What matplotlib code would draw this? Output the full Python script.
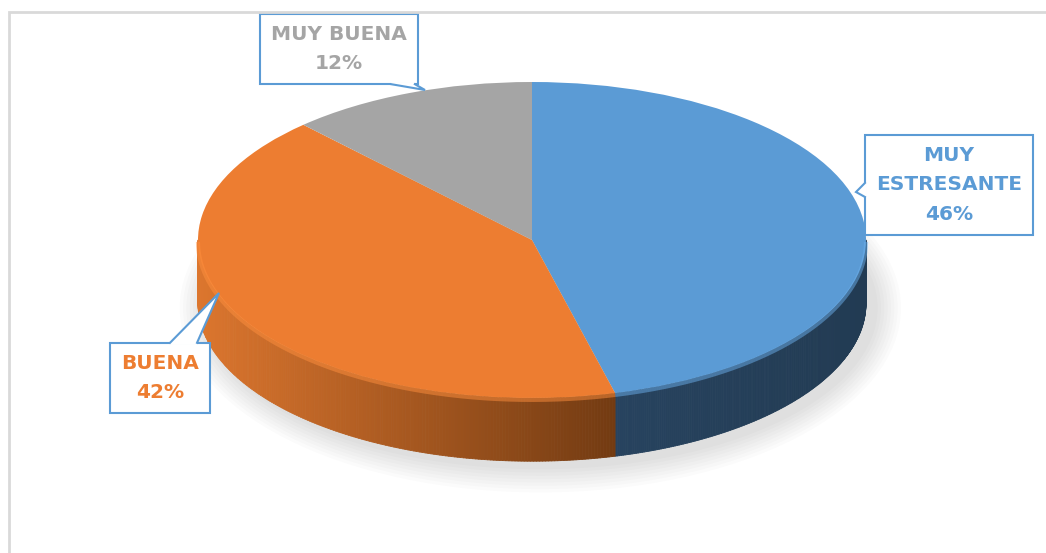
import numpy as np
import matplotlib.pyplot as plt
from matplotlib.collections import PolyCollection
from matplotlib.patches import Ellipse, Rectangle, Polygon
from matplotlib.colors import to_rgb

# slice data (clockwise from 12 o'clock)
categories = ['MUY\nESTRESANTE', 'BUENA', 'MUY BUENA']
shares = [46, 42, 12]
top_colors = ['#5B9BD5', '#ED7D31', '#A5A5A5']
side_light = ['#27435F', '#DC762E', '#8A8A8A']
side_dark = ['#223B53', '#733B12', '#5E5E5E']
label_colors = ['#5B9BD5', '#ED7D31', '#A5A5A5']

W, H = 1046, 553
CX, CY = 532, 240      # pie centre (pixels from top-left)
RX, RY = 334, 158      # ellipse radii in pixels
DEPTH = 0.40           # side thickness, in units of RY
BOX_EDGE = '#5B9BD5'


def px(x, y):
    # pixel position -> data coords
    return (x - CX) / RX, (CY - y) / RY


fig = plt.figure(figsize=(W / 100, H / 100), dpi=100)
ax = fig.add_axes([0, 0, 1, 1])

# soft shadow under the pie
for k in range(8):
    e = 0.01 * (8 - k)
    ax.add_patch(Ellipse((0.025, -DEPTH - 0.03), 2 * (1 + e), 2 * (1 + 2.1 * e),
                         fc='#000000', alpha=0.014, lw=0, zorder=0))

# side of the 3D pie, built from the slice angles
cum = np.concatenate([[0], np.cumsum(shares)]) / np.sum(shares)
polys, cols = [], []
for i in range(len(shares)):
    a_lo = 90 - cum[i + 1] * 360
    a_hi = 90 - cum[i] * 360
    lo, hi = max(a_lo, -180), min(a_hi, 0)
    if lo >= hi:
        continue
    t = np.radians(np.linspace(lo, hi, 200))
    xs = np.cos(t)
    x_min, x_max = xs.min(), xs.max()
    c0, c1 = np.array(to_rgb(side_light[i])), np.array(to_rgb(side_dark[i]))
    for j in range(len(t) - 1):
        t1, t2 = t[j], t[j + 1]
        polys.append([(np.cos(t1), np.sin(t1)), (np.cos(t2), np.sin(t2)),
                      (np.cos(t2), np.sin(t2) - DEPTH), (np.cos(t1), np.sin(t1) - DEPTH)])
        f = ((np.cos(t1) + np.cos(t2)) / 2 - x_min) / max(x_max - x_min, 1e-6)
        cols.append(c0 * (1 - f) + c1 * f)
ax.add_collection(PolyCollection(polys, facecolors=cols, edgecolors=cols, lw=0.6, zorder=1))

# top face
wedges, _ = ax.pie(shares, colors=top_colors, startangle=90, counterclock=False,
                   radius=1, center=(0, 0), wedgeprops=dict(lw=0))
for w in wedges:
    w.set_zorder(2)

# light bevel along the front rim
for i in range(len(shares)):
    a_lo = 90 - cum[i + 1] * 360
    a_hi = 90 - cum[i] * 360
    lo, hi = max(a_lo, -180), min(a_hi, 0)
    if lo >= hi:
        continue
    t = np.radians(np.linspace(lo, hi, 200))
    c = np.array(to_rgb(top_colors[i]))
    ax.plot(np.cos(t), np.sin(t) - 0.012, color=np.minimum(c * 1.06 + 0.04, 1),
            lw=3, alpha=0.5, zorder=3, solid_capstyle='butt')

ax.set_aspect('auto')
ax.set_xlim(px(0, 0)[0], px(W, 0)[0])
ax.set_ylim(px(0, H)[1], px(0, 0)[1])
ax.axis('off')

# data labels (callout boxes)
label_pos = [(949, 185), (160, 378), (339, 49)]
label_tip = [(856, 192), (219, 293), (425, 90)]
# which box edge the tail leaves from, and where along it (fractions)
tail_edge = ['left', 'top', 'bottom']
tail_span = [(0.48, 0.62), (0.60, 0.87), (0.83, 0.98)]

texts = []
for i in range(len(shares)):
    texts.append(ax.text(*px(*label_pos[i]), f'{categories[i]}\n{shares[i]}%',
                         ha='center', va='center', fontsize=14.5, fontweight='bold',
                         family='DejaVu Sans', color=label_colors[i], linespacing=1.68,
                         bbox=dict(boxstyle='square,pad=0.55', fc='white', ec=BOX_EDGE, lw=1.5),
                         zorder=10))

fig.canvas.draw()
to_data = ax.transData.inverted()
for i, txt in enumerate(texts):
    bb = txt.get_bbox_patch().get_window_extent()
    f0, f1 = tail_span[i]
    if tail_edge[i] == 'left':
        a = (bb.x0, bb.y1 - f0 * bb.height)
        b = (bb.x0, bb.y1 - f1 * bb.height)
        inner = (2, 0)
    elif tail_edge[i] == 'top':
        a = (bb.x0 + f0 * bb.width, bb.y1)
        b = (bb.x0 + f1 * bb.width, bb.y1)
        inner = (0, -2)
    else:
        a = (bb.x0 + f0 * bb.width, bb.y0)
        b = (bb.x0 + f1 * bb.width, bb.y0)
        inner = (0, 2)
    tip = ax.transData.transform(px(*label_tip[i]))
    pts = to_data.transform([a, tip, b])
    cover = to_data.transform([a, tip, b, (b[0] + inner[0], b[1] + inner[1]),
                               (a[0] + inner[0], a[1] + inner[1])])
    ax.add_patch(Polygon(cover, closed=True, fc='white', ec='none', zorder=11))
    ax.plot(pts[:, 0], pts[:, 1], color=BOX_EDGE, lw=1.5, zorder=12, solid_joinstyle='miter')

# chart area border
fig.add_artist(Rectangle((9 / W, -0.05), 1.2, (H - 12) / H + 0.05, transform=fig.transFigure,
                         fill=False, ec='#D9D9D9', lw=2))

fig.savefig('out.png', dpi=100)
